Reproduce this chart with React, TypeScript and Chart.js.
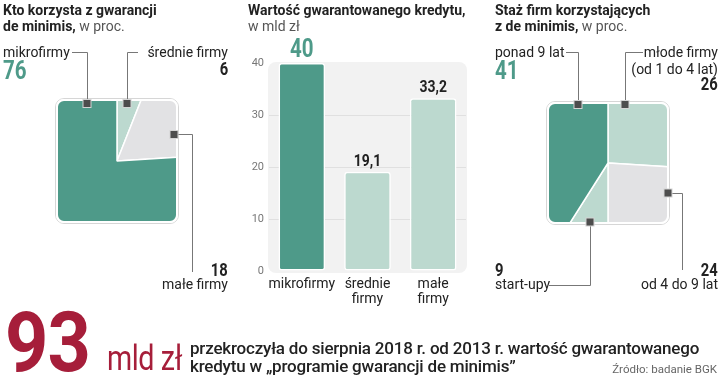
import React, { useEffect, useRef } from "react";
import { Chart, registerables } from "chart.js";
Chart.register(...registerables);

// ---------- data ----------
const sizeLabels = ["średnie firmy", "małe firmy", "mikrofirmy"];
const sizeShares = [6, 18, 76];

const creditCategories = [["mikrofirmy"], ["średnie", "firmy"], ["małe", "firmy"]];
const creditValues = [40, 19.1, 33.2];
const creditValueLabels = ["40", "19,1", "33,2"];
const creditTicks = [0, 10, 20, 30, 40];

const ageLabels = ["młode firmy", "od 4 do 9 lat", "start-upy", "ponad 9 lat"];
const ageNote = "(od 1 do 4 lat)";
const ageShares = [26, 24, 9, 41];

const totalValue = "93";
const totalUnit = "mld zł";
const totalText = [
  "przekroczyła do sierpnia 2018 r. od 2013 r. wartość gwarantowanego",
  "kredytu w „programie gwarancji de minimis”",
];
const sourceText = "Źródło: badanie BGK";

// ---------- style ----------
const TEAL = "#4e9a89";
const LIGHT = "#bcd9cf";
const GREY = "#e2e2e4";
const CRIMSON = "#a61e3a";
const SANS = "Roboto, 'Liberation Sans', sans-serif";

type TProps = {
  x: number; y: number; size?: number; bold?: boolean; color?: string;
  align?: "left" | "right"; sx?: number; children?: React.ReactNode; extra?: React.CSSProperties;
};
const T = ({ x, y, size = 14, bold = false, color = "#222", align = "left", sx = 1, children, extra }: TProps) => {
  const s: React.CSSProperties = {
    position: "absolute",
    top: y - 0.945 * size,
    fontSize: size,
    lineHeight: `${1.2 * size}px`,
    fontFamily: SANS,
    fontWeight: bold ? 700 : 400,
    color,
    whiteSpace: "nowrap",
    transform: sx !== 1 ? `scaleX(${sx})` : undefined,
    transformOrigin: align === "left" ? "left center" : "right center",
    ...extra,
  };
  if (align === "left") s.left = x; else s.right = 720 - x;
  return <div style={s}>{children}</div>;
};

function SquarePie({ data, colors, left, top, w, h }: { data: number[]; colors: string[]; left: number; top: number; w: number; h: number }) {
  const ref = useRef<HTMLCanvasElement>(null);
  useEffect(() => {
    const clip = {
      id: "squareClip",
      beforeDatasetsDraw(chart: any) {
        const { ctx, chartArea: a } = chart;
        ctx.save();
        ctx.beginPath();
        ctx.roundRect(a.left, a.top, a.width, a.height, 7);
        ctx.clip();
      },
      afterDatasetsDraw(chart: any) {
        const { ctx, chartArea: a } = chart;
        ctx.restore();
        ctx.save();
        ctx.beginPath();
        ctx.roundRect(a.left - 1.5, a.top - 1.5, a.width + 3, a.height + 3, 8.5);
        ctx.strokeStyle = "rgba(0,0,0,0.16)";
        ctx.lineWidth = 1;
        ctx.stroke();
        ctx.beginPath();
        ctx.roundRect(a.left, a.top, a.width, a.height, 7);
        ctx.strokeStyle = "#ffffff";
        ctx.lineWidth = 2;
        ctx.stroke();
        ctx.restore();
      },
    };
    const chart = new Chart(ref.current!, {
      type: "pie",
      data: { datasets: [{ data, backgroundColor: colors, borderColor: "#ffffff", borderWidth: 1.5 }] },
      options: {
        responsive: false,
        animation: false,
        events: [],
        radius: 100,
        layout: { padding: 5 },
        plugins: { legend: { display: false }, tooltip: { enabled: false } },
      } as any,
      plugins: [clip],
    });
    return () => chart.destroy();
  }, []);
  return <canvas ref={ref} width={w} height={h} style={{ position: "absolute", left, top, width: w, height: h }} />;
}

function CreditBars() {
  const ref = useRef<HTMLCanvasElement>(null);
  useEffect(() => {
    const bg = {
      id: "plotBg",
      beforeDraw(chart: any) {
        const { ctx, chartArea: a } = chart;
        ctx.save();
        ctx.beginPath();
        ctx.roundRect(a.left - 1, a.top - 1, a.width + 2, a.height + 3, 8);
        ctx.fillStyle = "#f2f2f2";
        ctx.fill();
        ctx.restore();
      },
    };
    const labels = {
      id: "valueLabels",
      afterDatasetsDraw(chart: any) {
        const { ctx } = chart;
        const meta = chart.getDatasetMeta(0);
        meta.data.forEach((el: any, i: number) => {
          ctx.save();
          ctx.textAlign = "center";
          ctx.textBaseline = "alphabetic";
          if (i === 0) {
            ctx.font = `bold 25px ${SANS}`;
            ctx.fillStyle = TEAL;
          } else {
            ctx.font = `bold 17px ${SANS}`;
            ctx.fillStyle = "#222";
          }
          ctx.translate(el.x, el.y - 6);
          ctx.scale(0.82, 1);
          ctx.fillText(creditValueLabels[i], 0, 0);
          ctx.restore();
        });
      },
    };
    const chart = new Chart(ref.current!, {
      type: "bar",
      data: {
        labels: creditCategories as any,
        datasets: [{
          data: creditValues,
          backgroundColor: [TEAL, LIGHT, LIGHT],
          borderColor: "#ffffff",
          borderWidth: 1.5,
          borderSkipped: false,
          borderRadius: 3,
          barPercentage: 0.71,
          categoryPercentage: 1,
        }],
      },
      options: {
        responsive: false,
        animation: false,
        events: [],
        layout: { padding: { top: 33, left: 0, right: 4, bottom: 0 } },
        plugins: { legend: { display: false }, tooltip: { enabled: false } },
        scales: {
          x: {
            grid: { display: false, drawTicks: false },
            border: { display: false },
            ticks: { color: "#222", font: { family: SANS, size: 14, lineHeight: 1.05 }, padding: 6, maxRotation: 0, autoSkip: false },
            afterFit(s: any) { s.height = 39; },
          },
          y: {
            min: 0,
            max: 40,
            afterBuildTicks(s: any) { s.ticks = creditTicks.map((v) => ({ value: v })); },
            grid: {
              color: (c: any) => (c.tick && (c.tick.value === 0 || c.tick.value === 40) ? "rgba(0,0,0,0)" : "#e0e0e0"),
              drawTicks: false,
              lineWidth: 1,
            },
            border: { display: false },
            ticks: { color: "#777", font: { family: SANS, size: 11 }, padding: 5 },
            afterFit(s: any) { s.width = 29; },
          },
        },
      } as any,
      plugins: [bg, labels],
    });
    return () => chart.destroy();
  }, []);
  return <canvas ref={ref} width={230} height={280} style={{ position: "absolute", left: 240, top: 30, width: 230, height: 280 }} />;
}

const Leaders = () => {
  const line = { fill: "none", stroke: "#777", strokeWidth: 1 } as const;
  const markers: [number, number][] = [[87, 103.5], [127, 103.5], [174, 134.5], [578, 104.5], [625, 104.5], [668, 193], [590, 222]];
  return (
    <svg width={720} height={391} style={{ position: "absolute", left: 0, top: 0, pointerEvents: "none" }}>
      <polyline points="72,52.5 87.5,52.5 87.5,100" {...line} />
      <polyline points="138,52.5 127.5,52.5 127.5,100" {...line} />
      <polyline points="178,134.5 192.5,134.5 192.5,272" {...line} />
      <polyline points="566,52.5 578.5,52.5 578.5,101" {...line} />
      <polyline points="643,52.5 625.5,52.5 625.5,101" {...line} />
      <polyline points="672,193.5 682.5,193.5 682.5,270" {...line} />
      <polyline points="590.5,226 590.5,285.5 549,285.5" {...line} />
      {markers.map(([x, y], i) => (
        <rect key={i} x={x - 4} y={y - 4} width={8} height={8} fill="#4d4d4d" stroke="#d4d4d4" strokeWidth={1} />
      ))}
    </svg>
  );
};

export default function App() {
  const light = { color: "#555", fontWeight: 400 } as React.CSSProperties;
  const NS = 0.82;
  return (
    <div style={{ position: "absolute", left: 0, top: 0, width: 720, height: 391, background: "#fff", overflow: "hidden" }}>
      <SquarePie data={sizeShares} colors={[LIGHT, GREY, TEAL]} left={52} top={95} w={130} h={132} />
      <SquarePie data={ageShares} colors={[LIGHT, GREY, LIGHT, TEAL]} left={543} top={98} w={130} h={130} />
      <CreditBars />
      <Leaders />

      {/* left panel */}
      <T x={3} y={15} bold>Kto korzysta z gwarancji</T>
      <T x={3} y={31} bold>de minimis,<span style={light}> w proc.</span></T>
      <T x={3} y={57}>{sizeLabels[2]}</T>
      <T x={3} y={80} size={25} bold color={TEAL} sx={NS}>{sizeShares[2]}</T>
      <T x={228} y={57} align="right">{sizeLabels[0]}</T>
      <T x={228} y={75} size={18} bold align="right" sx={NS}>{sizeShares[0]}</T>
      <T x={228} y={276} size={18} bold align="right" sx={NS}>{sizeShares[1]}</T>
      <T x={228} y={289} align="right">{sizeLabels[1]}</T>

      {/* middle panel */}
      <T x={248} y={15} bold>Wartość gwarantowanego kredytu,</T>
      <T x={248} y={31} color="#555">w mld zł</T>

      {/* right panel */}
      <T x={495} y={15} bold>Staż firm korzystających</T>
      <T x={495} y={31} bold>z de minimis,<span style={light}> w proc.</span></T>
      <T x={495} y={57}>{ageLabels[3]}</T>
      <T x={495} y={80} size={25} bold color={TEAL} sx={NS}>{ageShares[3]}</T>
      <T x={718} y={57} align="right">{ageLabels[0]}</T>
      <T x={718} y={74} align="right">{ageNote}</T>
      <T x={718} y={90} size={18} bold align="right" sx={NS}>{ageShares[0]}</T>
      <T x={495} y={276} size={18} bold sx={NS}>{ageShares[2]}</T>
      <T x={495} y={289}>{ageLabels[2]}</T>
      <T x={718} y={276} size={18} bold align="right" sx={NS}>{ageShares[1]}</T>
      <T x={718} y={289} align="right">{ageLabels[1]}</T>

      {/* bottom */}
      <T x={5} y={372} size={84} bold color={CRIMSON} sx={0.9} extra={{ letterSpacing: -1 }}>{totalValue}</T>
      <T x={107} y={371} size={35} color={CRIMSON} sx={0.82} extra={{ letterSpacing: -0.5 }}>{totalUnit}</T>
      <T x={190} y={354} size={17} color="#222" extra={{ fontWeight: 500, letterSpacing: -0.2 }}>{totalText[0]}</T>
      <T x={190} y={372} size={17} color="#222" extra={{ fontWeight: 500, letterSpacing: -0.2 }}>{totalText[1]}</T>
      <T x={717} y={374} size={11.5} color="#666" align="right">{sourceText}</T>
    </div>
  );
}
